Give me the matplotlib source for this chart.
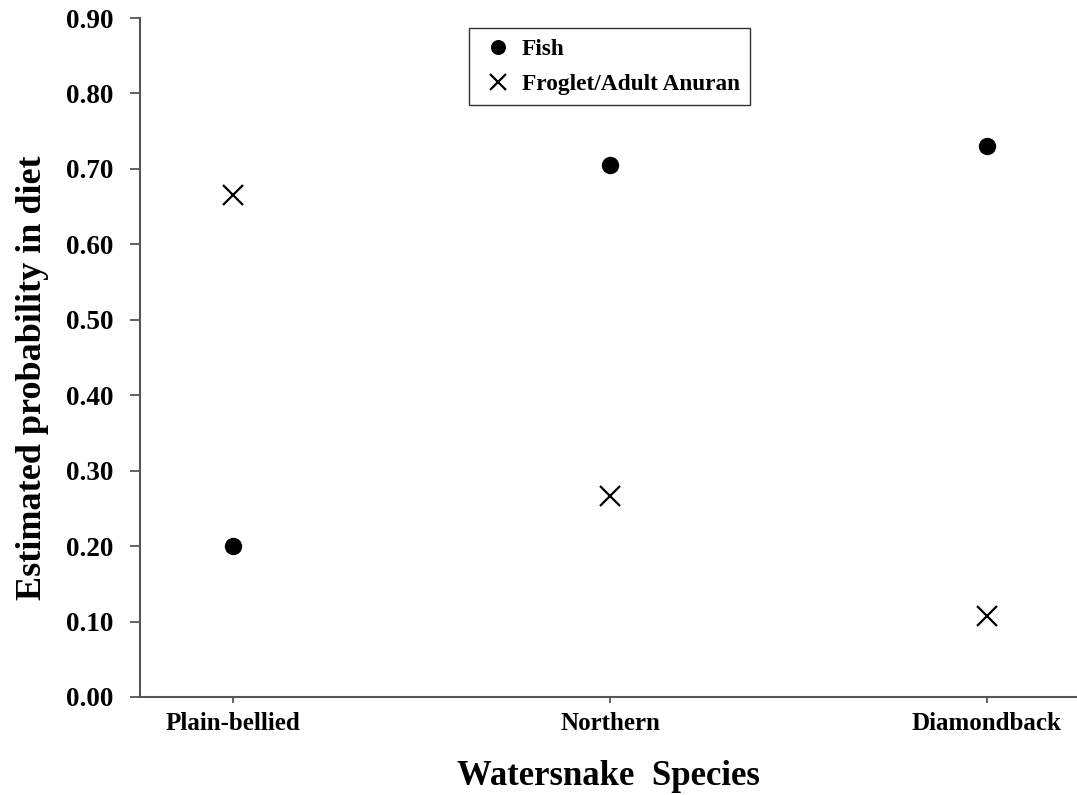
# Watersnake diet: estimated probability of prey type by species

import numpy as np
import matplotlib.pyplot as plt

plt.rcParams['font.family'] = ['Liberation Serif', 'DejaVu Serif']
plt.rcParams['font.weight'] = 'bold'

# data
species = ['Plain-bellied', 'Northern', 'Diamondback']
fish = [0.200, 0.705, 0.730]
froglet = [0.665, 0.267, 0.107]
yticks = np.arange(0, 0.91, 0.10)

x = np.arange(1, len(species) + 1)

fig = plt.figure(figsize=(10.77, 7.95), dpi=100)
ax = fig.add_axes([0.13, 0.1233, 0.87, 0.854])

ax.plot(x, fish, linestyle='none', marker='o', markersize=11.5,
        color='black', label='Fish')
ax.plot(x, froglet, linestyle='none', marker='x', markersize=14,
        markeredgewidth=1.6, color='black', label='Froglet/Adult Anuran')

ax.set_xlim(0.753, 3.239)
ax.set_ylim(0, 0.90)
ax.set_xticks(x)
ax.set_xticklabels(species, fontsize=18, fontweight='bold')
ax.set_yticks(yticks)
ax.set_yticklabels(['%.2f' % v for v in yticks], fontsize=19.5, fontweight='bold')

for s in ['top', 'right']:
    ax.spines[s].set_visible(False)
for s in ['left', 'bottom']:
    ax.spines[s].set_color('#555555')
    ax.spines[s].set_linewidth(1.5)

ax.tick_params(axis='y', direction='out', length=7, width=1.3,
               color='#555555', pad=12)
ax.tick_params(axis='x', direction='out', length=4, width=1.3,
               color='#555555', pad=7)

ax.set_xlabel('Watersnake  Species', fontsize=25, fontweight='bold',
              labelpad=18)
ax.set_ylabel('Estimated probability in diet', fontsize=26,
              fontweight='bold')
ax.yaxis.set_label_coords(-0.097, 0.47)

leg = ax.legend(loc='upper left', bbox_to_anchor=(469 / 1077, 1 - 28 / 795),
                bbox_transform=fig.transFigure, fontsize=16.8,
                frameon=True, fancybox=False, edgecolor='black',
                borderaxespad=0, borderpad=0.45, handlelength=1.55,
                handletextpad=0.25, labelspacing=0.58, markerscale=0.85)
leg.get_frame().set_linewidth(1.0)
for t in leg.get_texts():
    t.set_fontweight('bold')

fig.savefig('out.png', dpi=100)
